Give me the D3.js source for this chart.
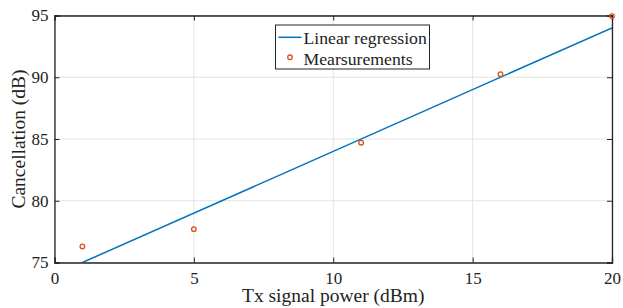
<!DOCTYPE html>
<html>
<head>
<meta charset="utf-8">
<script src="https://cdn.jsdelivr.net/npm/d3@7"></script>
<style>
  body { margin: 0; background: #fff; }
  text { font-family: "Liberation Serif", "Times New Roman", serif; fill: #222; }
</style>
</head>
<body>
<div id="chart"></div>
<script>
// Data
const measX = [1, 5, 11, 16, 20];
const measY = [76.3, 77.7, 84.7, 90.25, 94.95];
const fitX = [1, 20];
const fitY = [75.0, 94.0];
const xTicks = [0, 5, 10, 15, 20];
const yTicks = [75, 80, 85, 90, 95];

const width = 623, height = 308;
const margin = { left: 54.5, right: 11, top: 15.5, bottom: 45.5 };
const innerW = width - margin.left - margin.right;
const innerH = height - margin.top - margin.bottom;

const svg = d3.select("#chart").append("svg")
    .attr("width", width)
    .attr("height", height);

const x = d3.scaleLinear().domain([0, 20]).range([margin.left, margin.left + innerW]);
const y = d3.scaleLinear().domain([75, 95]).range([margin.top + innerH, margin.top]);

// Grid lines
const grid = svg.append("g");
grid.selectAll(".gx").data(xTicks).enter().append("line")
    .attr("x1", d => x(d)).attr("x2", d => x(d))
    .attr("y1", y(75)).attr("y2", y(95))
    .attr("stroke", "#e3e3e3").attr("stroke-width", 1);
grid.selectAll(".gy").data(yTicks).enter().append("line")
    .attr("x1", x(0)).attr("x2", x(20))
    .attr("y1", d => y(d)).attr("y2", d => y(d))
    .attr("stroke", "#e3e3e3").attr("stroke-width", 1);

// Clip for data
svg.append("clipPath").attr("id", "clip")
  .append("rect")
    .attr("x", x(0)).attr("y", y(95))
    .attr("width", innerW).attr("height", innerH);

// Regression line
const fit = fitX.map((d, i) => [d, fitY[i]]);
svg.append("path")
    .datum(fit)
    .attr("clip-path", "url(#clip)")
    .attr("fill", "none")
    .attr("stroke", "#0072BD")
    .attr("stroke-width", 1.5)
    .attr("d", d3.line().x(d => x(d[0])).y(d => y(d[1])));

// Axes (MATLAB-like box, ticks inward)
const axisColor = "#262626";
const axBottom = d3.axisBottom(x).tickValues(xTicks).tickSize(-5).tickPadding(9).tickFormat(d3.format("d"));
const axLeft = d3.axisLeft(y).tickValues(yTicks).tickSize(-5).tickPadding(6).tickFormat(d3.format("d"));
const axTop = d3.axisTop(x).tickValues(xTicks).tickSize(-5).tickFormat("");
const axRight = d3.axisRight(y).tickValues(yTicks).tickSize(-5).tickFormat("");

function styleAxis(g) {
  g.select(".domain").attr("stroke", axisColor).attr("stroke-width", 1.3);
  g.selectAll(".tick line").attr("stroke", axisColor).attr("stroke-width", 1);
  g.selectAll(".tick text")
    .style("font-family", "'Liberation Serif', 'Times New Roman', serif")
    .style("font-size", "17px")
    .attr("fill", "#222");
}

svg.append("g").attr("transform", `translate(0,${y(75)})`).call(axBottom).call(styleAxis);
svg.append("g").attr("transform", `translate(${x(0)},0)`).call(axLeft).call(styleAxis);
svg.append("g").attr("transform", `translate(0,${y(95)})`).call(axTop).call(styleAxis);
svg.append("g").attr("transform", `translate(${x(20)},0)`).call(axRight).call(styleAxis);

// Measurements (open circles) drawn on top
svg.append("g").selectAll("circle")
    .data(measX.map((d, i) => [d, measY[i]]))
    .enter().append("circle")
    .attr("cx", d => x(d[0]))
    .attr("cy", d => y(d[1]))
    .attr("r", 2.3)
    .attr("fill", "none")
    .attr("stroke", "#D95319")
    .attr("stroke-width", 1.3);

// Axis labels
svg.append("text")
    .attr("x", x(10))
    .attr("y", 302)
    .attr("text-anchor", "middle")
    .style("font-size", "19.5px")
    .text("Tx signal power (dBm)");

svg.append("text")
    .attr("transform", `translate(25,${y(85)}) rotate(-90)`)
    .attr("text-anchor", "middle")
    .style("font-size", "19.5px")
    .text("Cancellation (dB)");

// Legend
const lg = svg.append("g").attr("transform", "translate(275.5,25)");
lg.append("rect")
    .attr("width", 154).attr("height", 44)
    .attr("fill", "#fff")
    .attr("stroke", axisColor).attr("stroke-width", 1);
lg.append("line")
    .attr("x1", 3).attr("x2", 26).attr("y1", 12.3).attr("y2", 12.3)
    .attr("stroke", "#0072BD").attr("stroke-width", 1.5);
lg.append("text").attr("x", 28).attr("y", 18.5).style("font-size", "17.7px").text("Linear regression");
lg.append("circle")
    .attr("cx", 14.5).attr("cy", 32.3).attr("r", 2.3)
    .attr("fill", "none").attr("stroke", "#D95319").attr("stroke-width", 1.3);
lg.append("text").attr("x", 28).attr("y", 39.5).style("font-size", "17.7px").text("Mearsurements");
</script>
</body>
</html>
